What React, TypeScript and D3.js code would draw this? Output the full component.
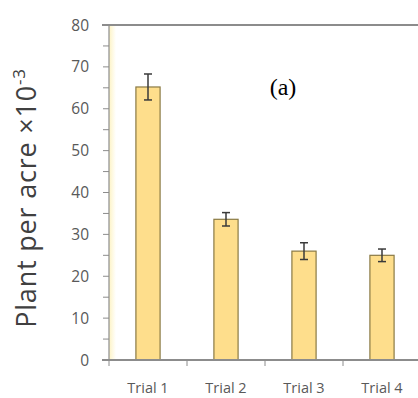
import React, { useEffect, useRef } from 'react';
import * as d3 from 'd3';

const categories = ['Trial 1', 'Trial 2', 'Trial 3', 'Trial 4'];
const means = [65.2, 33.6, 26.0, 25.0];
const errors = [3.1, 1.6, 2.0, 1.5];
const yTicks = [0, 10, 20, 30, 40, 50, 60, 70, 80];

const W = 418;
const H = 398;
const left = 109;
const top = 25;
const bottom = 360;

const App = () => {
  const ref = useRef<SVGSVGElement>(null);

  useEffect(() => {
    const svg = d3.select(ref.current);
    svg.selectAll('*').remove();

    const x = d3.scaleBand().domain(categories).range([left, left + 4 * 78]).paddingInner(0.69).paddingOuter(0.345);
    const y = d3.scaleLinear().domain([0, 80]).range([bottom, top]);
    const tickColor = '#595959';

    // pale band next to the y axis
    const grad = svg.append('defs').append('linearGradient').attr('id', 'band');
    grad.append('stop').attr('offset', '0%').attr('stop-color', '#fdf3c4');
    grad.append('stop').attr('offset', '100%').attr('stop-color', '#ffffff');
    svg.append('rect').attr('x', left).attr('y', top).attr('width', 7).attr('height', bottom - top).attr('fill', 'url(#band)');

    // bars
    svg.append('g')
      .selectAll('rect')
      .data(means)
      .join('rect')
      .attr('x', (d, i) => x(categories[i])!)
      .attr('width', x.bandwidth())
      .attr('y', d => y(d))
      .attr('height', d => y(0) - y(d))
      .attr('fill', '#fede8c')
      .attr('stroke', '#8a7a45')
      .attr('stroke-width', 1.2);

    // error bars
    const eb = svg.append('g').attr('stroke', '#3a3a3a').attr('stroke-width', 1.5);
    means.forEach((m, i) => {
      const cx = x(categories[i])! + x.bandwidth() / 2;
      eb.append('line').attr('x1', cx).attr('x2', cx).attr('y1', y(m - errors[i])).attr('y2', y(m + errors[i]));
      [m - errors[i], m + errors[i]].forEach(v => {
        eb.append('line').attr('x1', cx - 4).attr('x2', cx + 4).attr('y1', y(v)).attr('y2', y(v));
      });
    });

    // y axis
    svg.append('line').attr('x1', left).attr('x2', left).attr('y1', top).attr('y2', bottom)
      .attr('stroke', '#8c8c8c').attr('stroke-width', 1.2);
    svg.append('g')
      .selectAll('line')
      .data(d3.range(0, 81, 5))
      .join('line')
      .attr('x1', left - 6).attr('x2', left)
      .attr('y1', d => y(d)).attr('y2', d => y(d))
      .attr('stroke', '#8c8c8c');
    svg.append('g')
      .selectAll('text')
      .data(yTicks)
      .join('text')
      .attr('x', 89)
      .attr('y', d => y(d))
      .attr('dy', '0.36em')
      .attr('text-anchor', 'end')
      .attr('font-family', 'Open Sans, sans-serif')
      .attr('font-size', 15.5)
      .attr('fill', tickColor)
      .text(d => d);

    // top border and x axis
    [top, bottom].forEach(yy => {
      svg.append('line').attr('x1', 102).attr('x2', W).attr('y1', yy).attr('y2', yy)
        .attr('stroke', '#8c8c8c').attr('stroke-width', 2);
    });
    svg.append('g')
      .selectAll('line')
      .data(d3.range(0, 5))
      .join('line')
      .attr('x1', i => left + i * x.step()).attr('x2', i => left + i * x.step())
      .attr('y1', bottom).attr('y2', bottom + 6)
      .attr('stroke', '#8c8c8c');
    svg.append('g')
      .selectAll('text')
      .data(categories)
      .join('text')
      .attr('x', d => x(d)! + x.bandwidth() / 2)
      .attr('y', 388)
      .attr('dy', '0.36em')
      .attr('text-anchor', 'middle')
      .attr('font-family', 'Open Sans, sans-serif')
      .attr('font-size', 14.5)
      .attr('fill', tickColor)
      .text(d => d);

    // y title
    const title = svg.append('text')
      .attr('transform', 'translate(36,198) rotate(-90)')
      .attr('text-anchor', 'middle')
      .attr('font-family', 'Open Sans, sans-serif')
      .attr('font-size', 27)
      .attr('letter-spacing', 0.8)
      .attr('fill', '#404040');
    title.append('tspan').text('Plant per acre ×10');
    title.append('tspan').attr('dy', -11).attr('font-size', 17).text('-3');

    svg.append('text')
      .attr('x', 283)
      .attr('y', 95)
      .attr('text-anchor', 'middle')
      .attr('font-family', 'Liberation Serif, serif')
      .attr('font-size', 24)
      .attr('fill', '#000')
      .text('(a)');
  }, []);

  return (
    <svg ref={ref} width={W} height={H} style={{ position: 'absolute', left: 0, top: 0, background: '#fff' }} />
  );
};

export default App;
